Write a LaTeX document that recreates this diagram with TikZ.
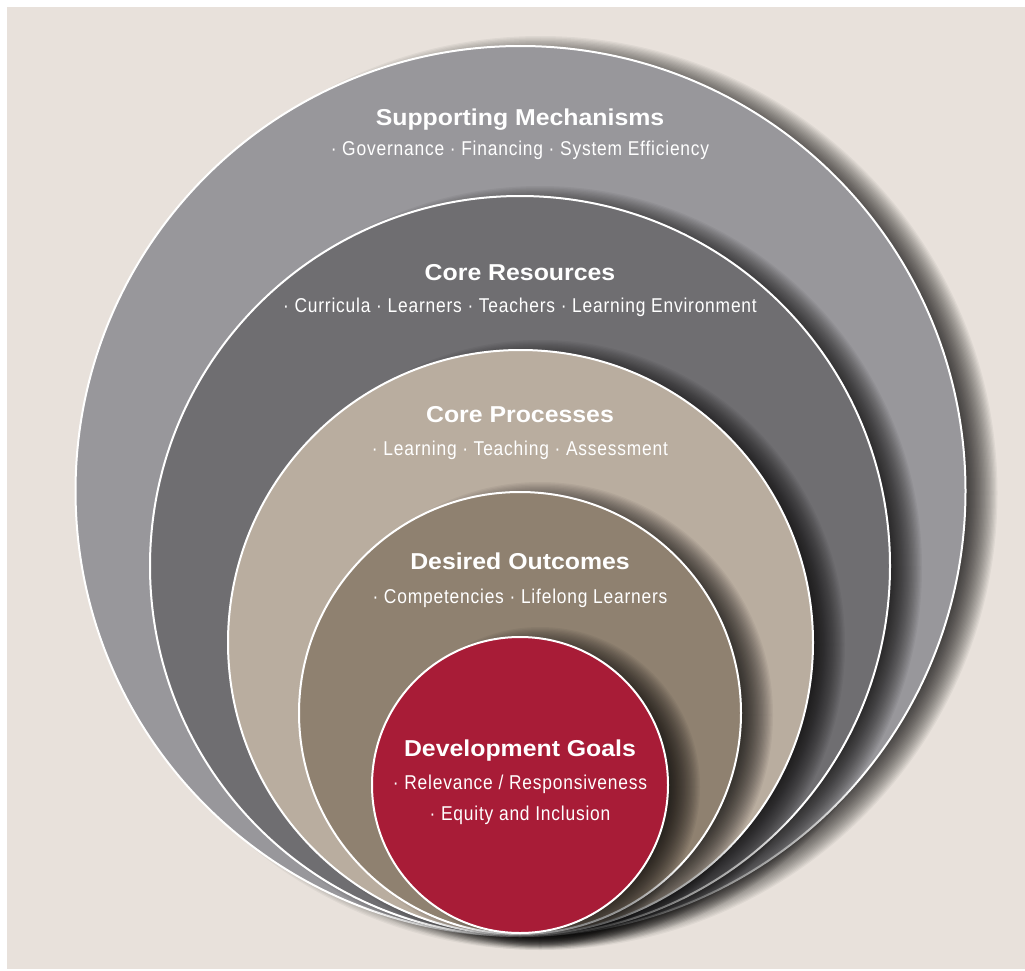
\documentclass[tikz,border=0pt]{standalone}
\usepackage{fontspec}
\setmainfont{Liberation Sans}
\newfontfamily\titlefont[FakeStretch=1.08]{Liberation Sans}
\newfontfamily\condfont[FakeStretch=0.87,LetterSpace=4]{Liberation Sans}
\definecolor{bgbeige}{HTML}{E8E1DB}
\definecolor{ringA}{HTML}{98979B}
\definecolor{ringB}{HTML}{6F6E71}
\definecolor{ringC}{HTML}{B9AD9F}
\definecolor{ringD}{HTML}{8F8170}
\definecolor{ringE}{HTML}{A81C37}
\tikzset{
  ring/.style={circle, inner sep=0pt, outer sep=0pt, draw=white, line width=2pt, fill=#1},
  ttl/.style={anchor=base, text=white, font=\titlefont\bfseries\fontsize{23}{27}\selectfont, inner sep=0pt},
  sub/.style={anchor=base, text=white, font=\condfont\fontsize{20}{24}\selectfont, inner sep=0pt},
}
\begin{document}
\begin{tikzpicture}[x=1pt,y=-1pt]
\useasboundingbox (0,0) rectangle (1025,971);
\fill[white] (0,0) rectangle (1025,971);
\fill[bgbeige] (7,7) rectangle (1025,969);
\foreach \cx/\cy/\r/\col/\nm in {520.5/491/445/ringA/rA, 520/566/370/ringB/rB, 520.5/642.5/292.5/ringC/rC, 520/713/221/ringD/rD, 520/785/148/ringE/rE}{
  \foreach \k in {0,...,27}{
    \pgfmathsetmacro\rr{\r+12-1.25*\k}
    \fill[black, fill opacity=0.043] (\cx+20,\cy+2) circle[radius=\rr pt];
  }
  \node[ring=\col, minimum size=2*\r pt] (\nm) at (\cx,\cy) {};
}
\node[ttl] (t1) at (520,125) {Supporting Mechanisms};
\node[sub] (s1) at (520,156) {· Governance · Financing · System Efficiency};
\node[ttl] (t2) at (520,280) {Core Resources};
\node[sub] (s2) at (520,312) {· Curricula · Learners · Teachers · Learning Environment};
\node[ttl] (t3) at (520,422) {Core Processes};
\node[sub] (s3) at (520,455) {· Learning · Teaching · Assessment};
\node[ttl] (t4) at (520,569) {Desired Outcomes};
\node[sub] (s4) at (520,603) {· Competencies · Lifelong Learners};
\node[ttl] (t5) at (520,756) {Development Goals};
\node[sub] (s5) at (520,789) {· Relevance / Responsiveness};
\node[sub] (s6) at (520,820) {· Equity and Inclusion};
\end{tikzpicture}
\end{document}
